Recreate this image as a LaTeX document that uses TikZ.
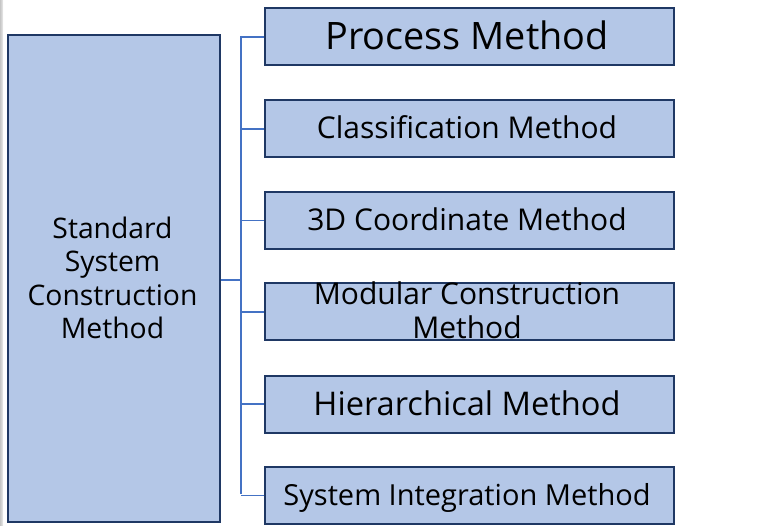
\documentclass[tikz,border=0pt]{standalone}
\usepackage{fontspec}
\setmainfont{Open Sans}
\definecolor{boxfill}{HTML}{B4C7E7}
\definecolor{boxline}{HTML}{1F3864}
\definecolor{conn}{HTML}{4472C4}
\begin{document}
\begin{tikzpicture}[x=1pt,y=-1pt,
  box/.style={draw=boxline, fill=boxfill, line width=2pt, inner sep=0pt, anchor=north west},
  rbox/.style={box, minimum width=409pt, minimum height=57pt},
  lbl/.style={font=\fontsize{#1}{33.5}\selectfont, align=center, inner sep=0pt},
  link/.style={draw=conn, line width=1.2pt}]
\useasboundingbox (0,0) rectangle (776,526);
\fill[left color=gray!45, right color=gray!15] (0,0) rectangle (3,526);
% left box
\node[box, minimum width=212pt, minimum height=487pt] (L) at (7,34) {};
\node[lbl=28.3] (Lt) at (112.5,278) {Standard\\System\\Construction\\Method};
% right boxes
\node[rbox] (b1) at (263.5,7.5) {};
\node[rbox] (b2) at (263.5,99.5) {};
\node[rbox] (b3) at (263.5,191) {};
\node[rbox] (b4) at (263.5,282.5) {};
\node[rbox] (b5) at (263.5,374.5) {};
\node[rbox] (b6) at (263.5,466) {};
\node[lbl=37.8, anchor=base] (t1) at (467,50) {Process Method};
\node[lbl=30, anchor=base] (t2) at (467,139) {Classification Method};
\node[lbl=30, anchor=base] (t3) at (467,230.5) {3D Coordinate Method};
\node[lbl=30] (t4) at (467,310) {Modular Construction\\Method};
\node[lbl=32.6, anchor=base] (t5) at (467,415) {Hierarchical Method};
\node[lbl=29, anchor=base] (t6) at (467,505) {System Integration Method};
% connectors
\coordinate (hub) at (241,280);
\coordinate (top) at (241,36);
\coordinate (bot) at (241,494);
\draw[link, line width=1.6pt] (L.east |- hub) -- (hub);
\draw[link] (top) -- (bot);
\foreach \b in {b1,b2,b3,b4,b5,b6}{
  \draw[link] (\b.west -| hub) -- (\b.west);
}
\end{tikzpicture}
\end{document}
